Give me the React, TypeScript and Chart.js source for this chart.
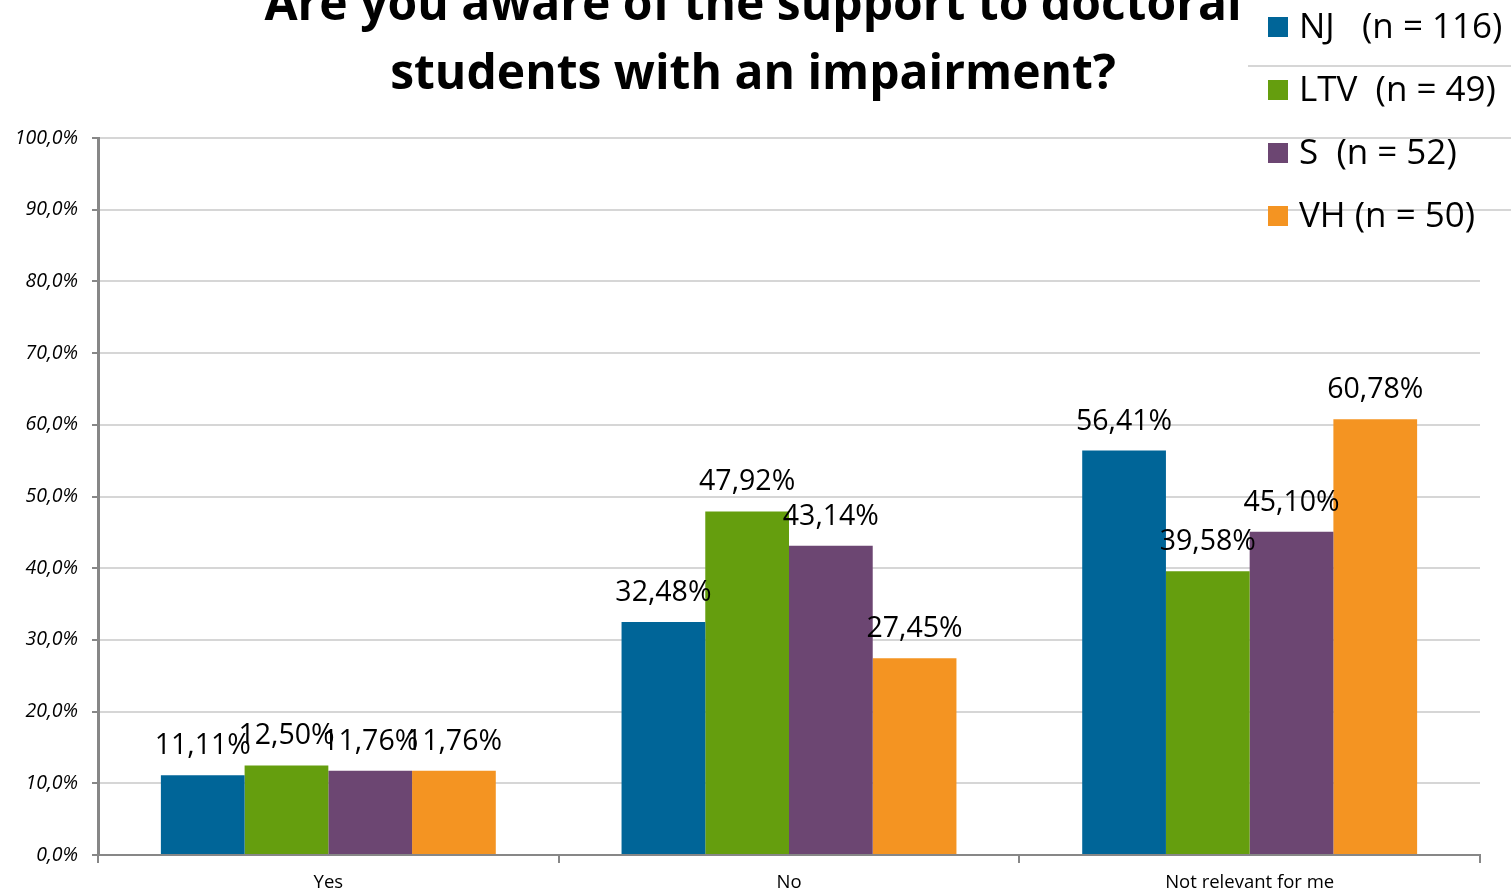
import React, { useEffect, useRef } from "react";
import { Chart, registerables } from "chart.js";

Chart.register(...registerables);

const CATEGORIES = ["Yes", "No", "Not relevant for me"];
const SERIES_LABELS = ["NJ   (n = 116)", "LTV  (n = 49)", "S  (n = 52)", "VH (n = 50)"];
const NJ = [11.11, 32.48, 56.41];
const LTV = [12.5, 47.92, 39.58];
const S = [11.76, 43.14, 45.1];
const VH = [11.76, 27.45, 60.78];
const SERIES = [NJ, LTV, S, VH];
const COLORS = ["#006598", "#659E0E", "#6C4672", "#F49422"];
const TITLE_LINES = ["Are you aware of the support to doctoral", "students with an impairment?"];
const LEGEND_LINE_VALUES = [110, 100, 90];

const FONT = "'Open Sans', 'Noto Sans', sans-serif";
const AXIS_COLOR = "#878787";
const GRID_COLOR = "#d6d6d6";

const fmtLabel = (v: number) => v.toFixed(2).replace(".", ",") + "%";
const fmtTick = (v: number) => v.toFixed(1).replace(".", ",") + "%";

const titlePlugin = {
  id: "customTitle",
  afterDraw(chart: any) {
    const ctx = chart.ctx;
    ctx.save();
    ctx.fillStyle = "#000";
    ctx.font = `bold 48px ${FONT}`;
    ctx.textAlign = "center";
    ctx.textBaseline = "alphabetic";
    const baselines = [20, 89];
    TITLE_LINES.forEach((line, i) => ctx.fillText(line, 753, baselines[i]));
    ctx.restore();
  },
};

const legendPlugin = {
  id: "customLegend",
  afterDraw(chart: any) {
    const ctx = chart.ctx;
    const y = chart.scales.y;
    ctx.save();
    ctx.strokeStyle = GRID_COLOR;
    ctx.lineWidth = 2;
    LEGEND_LINE_VALUES.forEach((v, i) => {
      const py = Math.round(y.getPixelForValue(v));
      ctx.beginPath();
      ctx.moveTo(i === 0 ? 1248 : chart.chartArea.right, py);
      ctx.lineTo(chart.width, py);
      ctx.stroke();
    });
    ctx.font = `35px ${FONT}`;
    ctx.textAlign = "left";
    ctx.textBaseline = "middle";
    const centers = [27, 90, 153, 216];
    SERIES_LABELS.forEach((lab, i) => {
      ctx.fillStyle = COLORS[i];
      ctx.fillRect(1268, centers[i] - 10, 20, 20);
      ctx.fillStyle = "#000";
      ctx.fillText(lab, 1299, centers[i] + 1);
    });
    ctx.restore();
  },
};

const dataLabelPlugin = {
  id: "dataLabels",
  afterDatasetsDraw(chart: any) {
    const ctx = chart.ctx;
    ctx.save();
    ctx.fillStyle = "#000";
    ctx.font = `28.5px ${FONT}`;
    ctx.textAlign = "center";
    ctx.textBaseline = "alphabetic";
    chart.data.datasets.forEach((ds: any, di: number) => {
      const meta = chart.getDatasetMeta(di);
      meta.data.forEach((bar: any, i: number) => {
        ctx.fillText(fmtLabel(ds.data[i]), bar.x, bar.y - 21);
      });
    });
    ctx.restore();
  },
};

export default function App() {
  const ref = useRef<HTMLCanvasElement>(null);
  useEffect(() => {
    if (!ref.current) return;
    const chart = new Chart(ref.current, {
      type: "bar",
      data: {
        labels: CATEGORIES,
        datasets: SERIES.map((d, i) => ({
          label: SERIES_LABELS[i],
          data: d,
          backgroundColor: COLORS[i],
          borderWidth: 0,
          categoryPercentage: 0.727,
          barPercentage: 1,
        })),
      },
      options: {
        animation: false,
        responsive: false,
        layout: { padding: { top: 138, right: 31, left: 0, bottom: 0 } },
        plugins: {
          legend: { display: false },
          title: { display: false },
          tooltip: { enabled: false },
        },
        scales: {
          x: {
            grid: {
              offset: true,
              drawOnChartArea: false,
              drawTicks: true,
              tickLength: 8,
              tickColor: AXIS_COLOR,
              lineWidth: 2,
            },
            border: { color: AXIS_COLOR, width: 2 },
            ticks: { color: "#000", font: { family: FONT, size: 18.5 }, padding: 9 },
            afterFit: (s: any) => {
              s.height = 40;
            },
          },
          y: {
            min: 0,
            max: 100,
            ticks: {
              stepSize: 10,
              callback: (v: any) => fmtTick(Number(v)),
              color: "#000",
              font: { family: FONT, size: 19.5, style: "italic" },
              padding: 14,
            },
            grid: { color: GRID_COLOR, lineWidth: 2, tickLength: 6, tickColor: AXIS_COLOR },
            border: { color: AXIS_COLOR, width: 3 },
            afterFit: (s: any) => {
              s.width = 98;
            },
          },
        },
      },
      plugins: [dataLabelPlugin, legendPlugin, titlePlugin],
    });
    return () => chart.destroy();
  }, []);
  return (
    <div style={{ position: "fixed", left: 0, top: 0, width: 1511, height: 895, background: "#fff" }}>
      <canvas ref={ref} width={1511} height={895} />
    </div>
  );
}
